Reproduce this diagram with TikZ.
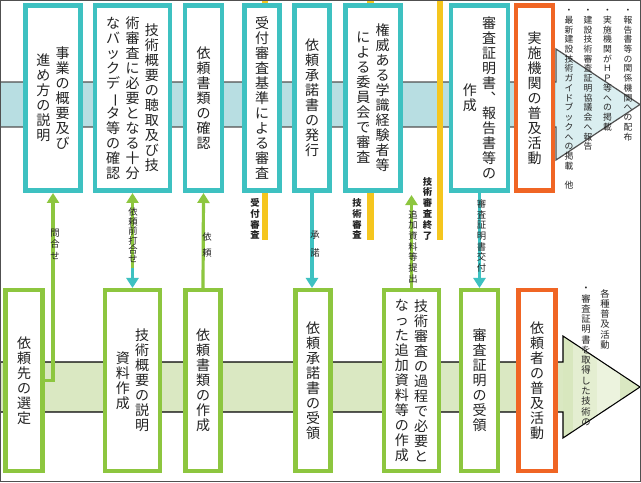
\documentclass[tikz,border=0pt]{standalone}
\usepackage{fontspec}
\usepackage{graphicx}
\setmainfont{Noto Sans CJK JP}
\usetikzlibrary{arrows.meta}
\definecolor{tealc}{RGB}{62,193,193}
\definecolor{greenc}{RGB}{141,198,63}
\definecolor{orangec}{RGB}{240,101,36}
\definecolor{yelc}{RGB}{245,198,30}
\definecolor{topband}{RGB}{184,222,226}
\definecolor{tophead}{RGB}{218,238,240}
\definecolor{botband}{RGB}{218,232,194}
\definecolor{botheadA}{RGB}{216,231,190}
\definecolor{botheadB}{RGB}{228,238,209}
\definecolor{botheadC}{RGB}{236,243,222}
\definecolor{txt}{RGB}{35,35,35}
\definecolor{bandline}{RGB}{80,80,80}
\makeatletter
\newcommand\vcol[2][11.25pt]{$\vcenter{\baselineskip=#1\lineskiplimit=-\maxdimen\lineskip=0pt\@tfor\vc@c:=#2\do{\hbox to 1em{\hss\vc@c\hss}}}$}
\makeatother
\newcommand\vbar{\rotatebox[origin=c]{-90}{ー}}
\tikzset{
  boxbase/.style={line width=3.375pt, fill=white, inner sep=0pt, text=txt, font=\fontsize{10.5pt}{11.25pt}\selectfont},
  tb/.style={boxbase, draw=tealc, minimum height=139.1pt},
  tbo/.style={boxbase, draw=orangec, minimum height=139.1pt},
  bb/.style={boxbase, draw=greenc, minimum height=135.4pt},
  bbo/.style={boxbase, draw=orangec, minimum height=135.4pt},
  lab/.style={inner sep=0pt, text=txt, font=\fontsize{7pt}{8pt}\selectfont},
  blab/.style={inner sep=0pt, text=txt, font=\fontsize{7pt}{8pt}\selectfont\bfseries},
  note/.style={inner sep=0pt, text=txt, anchor=north, font=\fontsize{6.6pt}{7.3pt}\selectfont},
  garrow/.style={draw=greenc, line width=2.4pt, -{Triangle[width=9pt,length=7.5pt]}},
  tarrow/.style={draw=tealc, line width=2.4pt, -{Triangle[width=9pt,length=7.5pt]}},
  yelbar/.style={fill=yelc},
}
\begin{document}
\begin{tikzpicture}[x=0.75pt,y=-0.75pt]
\useasboundingbox (0,0) rectangle (641,482);
\fill[white] (0,0) rectangle (641,482);
% top band
\fill[topband] (0,82) rectangle (556,127);
\fill[tophead] (556,49) -- (640,104.5) -- (556,160) -- cycle;
\draw[bandline, line width=0.9pt] (0,82) -- (556,82) -- (556,49) -- (640,104.5) -- (556,160) -- (556,127) -- (0,127);
% bottom band
\fill[botband] (0,362) rectangle (563,412);
\begin{scope}
\clip (563,336) -- (640,387) -- (563,438) -- cycle;
\fill[botheadA] (563,330) rectangle (573,445);
\fill[botheadB] (573,330) rectangle (597,445);
\fill[botheadC] (597,330) rectangle (620,445);
\fill[botband] (620,330) rectangle (641,445);
\end{scope}
\draw[black, line width=0.8pt] (0,362) -- (563,362) -- (563,336) -- (640,387) -- (563,438) -- (563,412) -- (0,412);
% yellow bars
\fill[yelbar] (262,0) rectangle (268,240);
\fill[yelbar] (367,0) rectangle (374,240);
\fill[yelbar] (437,0) rectangle (443,240);
% top boxes
\node[tb, minimum width=41.6pt] (t1) at (53,98) {\vcol{進め方の説明}\hskip4pt\vcol{事業の概要及び}};
\node[tb, minimum width=55.9pt] (t2) at (132.5,98) {\vcol{なバックデ{\vbar}タ等の確認}\hskip4pt\vcol{術審査に必要となる十分}\hskip4pt\vcol{技術概要の聴取及び技}};
\node[tb, minimum width=27.4pt] (t3) at (203.5,98) {\vcol{依頼書類の確認}};
\node[tb, minimum width=26.6pt] (t4) at (262,98) {\vcol{受付審査基準による審査}};
\node[tb, minimum width=26.6pt] (t5) at (312,98) {\vcol{依頼承諾書の発行}};
\node[tb, minimum width=41.6pt] (t6) at (373,98) {\vcol{による委員会で審査}\hskip4pt\vcol{権威ある学識経験者等}};
\node[tb, minimum width=42.4pt] (t7) at (479.5,98) {\vcol{作成}\hskip4pt\vcol{審査証明書︑報告書等の}};
\node[tbo, minimum width=27.4pt] (t8) at (534.5,98) {\vcol{実施機関の普及活動}};
% bottom boxes
\node[bb, minimum width=28.1pt] (b1) at (24,380.5) {\vcol{依頼先の選定}};
\node[bb, minimum width=40.9pt] (b2) at (132.5,380.5) {\vcol{資料作成}\hskip4pt\vcol{技術概要の説明}};
\node[bb, minimum width=26.6pt] (b3) at (203,380.5) {\vcol{依頼書類の作成}};
\node[bb, minimum width=26.6pt] (b4) at (313,380.5) {\vcol{依頼承諾書の受領}};
\node[bb, minimum width=40.9pt] (b5) at (411.5,380.5) {\vcol{なった追加資料等の作成}\hskip4pt\vcol{技術審査の過程で必要と}};
\node[bb, minimum width=27.4pt] (b6) at (479.5,380.5) {\vcol{審査証明の受領}};
\node[bbo, minimum width=28.1pt] (b7) at (537,380.5) {\vcol{依頼者の普及活動}};
% connectors
\coordinate (m2) at (132.5,268);
\coordinate (addtop) at (411.5,195);
\draw[garrow] (b1.east) -| (t1.south);
\draw[tarrow] (m2) -- (b2.north);
\draw[garrow] (m2) -- (t2.south);
\draw[garrow] (b3.north) -- (t3.south);
\draw[tarrow] (t5.south) -- (t5.south |- b4.north);
\draw[garrow] (b5.north) -- (addtop);
\draw[tarrow] (t7.south) -- (b6.north);
% connector labels
\node[lab] (l1) at (55,244) {\vcol[8.6pt]{問合せ}};
\node[lab] (l2) at (133,235.5) {\vcol[7pt]{依頼前打合せ}};
\node[lab] (l3) at (207,245) {\vcol[12pt]{依頼}};
\node[lab] (l4) at (315,244) {\vcol[13.5pt]{承諾}};
\node[lab] (l5) at (413,246.5) {\vcol[8pt]{追加資料等提出}};
\node[lab] (l6) at (481.5,236) {\vcol[8pt]{審査証明書交付}};
\node[blab] (y1) at (255,219) {\vcol[8.1pt]{受付審査}};
\node[blab] (y2) at (357,219) {\vcol[8.1pt]{技術審査}};
\node[blab] (y3) at (427.5,208.5) {\vcol[8.1pt]{技術審査終了}};
% notes
\node[note] (n1) at (628,9) {\vcol[7.3pt]{・報告書等の関係機関への配布}};
\node[note] (n2) at (607.5,9) {\vcol[7.3pt]{・実施機関がＨＰ等への掲載}};
\node[note] (n3) at (588,9) {\vcol[7.3pt]{・建設技術審査証明協議会へ報告}};
\node[note] (n4) at (569,9) {\vcol[7.3pt]{・最新建設技術ガイドブックへの掲載　他}};
\node[note, font=\fontsize{7pt}{7.7pt}\selectfont] (n5) at (605,289) {\vcol[7.7pt]{各種普及活動}};
\node[note, font=\fontsize{7pt}{7.7pt}\selectfont] (n6) at (586,287) {\vcol[7.7pt]{・審査証明書を取得した技術の}};
% frame
\draw[bandline, line width=0.75pt] (0.4,0.4) rectangle (640.6,481.6);
\end{tikzpicture}
\end{document}
